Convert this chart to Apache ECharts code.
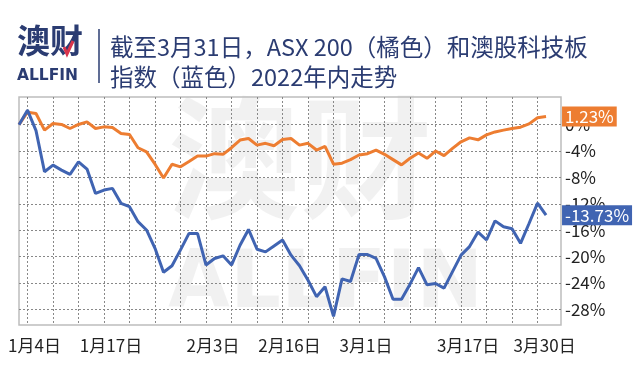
<!DOCTYPE html>
<html><head><meta charset="utf-8">
<script src="https://cdn.jsdelivr.net/npm/echarts@6/dist/echarts.min.js"></script>
<style>html,body{margin:0;padding:0;background:#fff}#c{width:640px;height:376px}</style>
</head><body><div id="c"></div>
<script>
// Trading days (base day 12月31日 + 2022 Q1 ASX trading days)
const dates = ['12月31日',
  '1月4日','1月5日','1月6日','1月7日','1月10日','1月11日','1月12日','1月13日','1月14日',
  '1月17日','1月18日','1月19日','1月20日','1月21日','1月24日','1月25日','1月27日','1月28日','1月31日',
  '2月1日','2月2日','2月3日','2月4日','2月7日','2月8日','2月9日','2月10日','2月11日',
  '2月14日','2月15日','2月16日','2月17日','2月18日','2月21日','2月22日','2月23日','2月24日','2月25日','2月28日',
  '3月1日','3月2日','3月3日','3月4日','3月7日','3月8日','3月9日','3月10日','3月11日',
  '3月14日','3月15日','3月16日','3月17日','3月18日','3月21日','3月22日','3月23日','3月24日','3月25日',
  '3月28日','3月29日','3月30日','3月31日'];
// ASX 200 (orange), % change YTD
const asx200 = [0,
  1.9, 1.69, -0.83, 0.18, 0.03, -0.58, 0.03, 0.43, -0.58, -0.33,
  -0.43, -1.34, -1.49, -3.5, -4.12, -6.0, -8.1, -6.0, -6.4, -5.6,
  -4.77, -4.77, -4.4, -4.5, -3.5, -2.34, -2.1, -3.1, -2.83, -3.2,
  -2.25, -2.1, -3.1, -2.83, -3.85, -3.3, -6.0, -5.85, -5.3, -4.6,
  -4.4, -3.85, -4.5, -5.3, -6.1, -5.1, -4.3, -5.1, -4.0, -4.7,
  -3.6, -2.6, -2.0, -2.3, -1.55, -1.1, -0.83, -0.58, -0.38, 0.12,
  1.04, 1.23];
// ASX tech index (blue), % change YTD
const techIndex = [0,
  2.2, -0.9, -7.15, -6.14, -6.89, -7.55, -5.63, -6.74, -10.43, -9.92,
  -9.67, -11.94, -12.45, -14.72, -15.98, -18.76, -22.4, -21.4, -19.0, -16.5,
  -16.5, -21.3, -20.3, -19.9, -21.3, -18.3, -15.9, -18.9, -19.3, -18.4,
  -17.5, -19.8, -21.4, -23.6, -26.1, -24.6, -29.1, -23.4, -23.8, -19.7,
  -19.7, -20.3, -23.1, -26.5, -26.5, -24.2, -21.7, -24.3, -24.1, -24.8,
  -22.3, -19.8, -18.5, -16.3, -17.5, -14.6, -15.5, -15.8, -18.0, -15.0,
  -11.9, -13.73];
const yTickValues = [0, -4, -8, -12, -16, -20, -24, -28];
const xLabelDates = ['1月4日','1月17日','2月3日','2月16日','3月1日','3月17日','3月30日'];
const titleText = '截至3月31日，ASX 200（橘色）和澳股科技板\n指数（蓝色）2022年内走势';

const ORANGE = '#ed7d31', BLUE = '#4064b2', NAVY = '#2b3c72';
const xLabelIdx = xLabelDates.map(d => dates.indexOf(d));
const xGridIdx = [];
for (let i = 1; i < dates.length; i += 3) xGridIdx.push(i);

const chart = echarts.init(document.getElementById('c'));
const cjk = "'Noto Sans CJK SC', 'Noto Sans', sans-serif";
const gridLineStyle = { color: '#888888', type: [2, 2], width: 1 };

const mkSeries = (name, arr, color, z) => ({
  name, type: 'line', symbol: 'none', smooth: false,
  data: arr.map((v, i) => [i, v]),
  lineStyle: { color, width: 3 }, itemStyle: { color },
  endLabel: {
    show: true, distance: 16, color: '#fff', fontSize: 17, fontFamily: cjk,
    backgroundColor: color, padding: [1, 3, 0, 3], lineHeight: 19,
    formatter: p => p.value[1].toFixed(2) + '%'
  },
  z
});

chart.setOption({
  animation: false,
  title: {
    text: titleText, left: 110, top: 32, padding: 0,
    textStyle: { fontSize: 23.5, lineHeight: 30, color: NAVY, fontWeight: 'normal', fontFamily: cjk }
  },
  graphic: [
    { type: 'text', left: 17, top: 24, z: 10,
      style: { text: '澳财', font: "bold 33px 'Noto Sans CJK SC'", fill: NAVY } },
    { type: 'text', left: 17, top: 68, z: 10,
      style: { text: 'ALLFIN', font: "bold 15.5px 'DejaVu Sans'", fill: NAVY } },
    { type: 'line', z: 10, shape: { x1: 99, y1: 29, x2: 99, y2: 83 }, style: { stroke: NAVY, lineWidth: 1.5 } },
    { type: 'polyline', z: 11, shape: { points: [[64, 47], [67, 54], [73, 41]] }, style: { stroke: '#d9344c', lineWidth: 3, fill: null } },
    { type: 'text', left: 168, top: 92, z: -1, silent: true,
      style: { text: '澳财', font: "bold 132px 'Noto Sans CJK SC'", fill: 'rgba(0,0,0,0.055)' } },
    { type: 'text', left: 168, top: 246, z: -1, silent: true,
      style: { text: 'ALLFIN', font: "bold 80px 'DejaVu Sans'", fill: 'rgba(0,0,0,0.055)' } }
  ],
  grid: { left: 19, right: 79, top: 97, bottom: 51, show: true, borderColor: '#bdbdbd', borderWidth: 1.5 },
  xAxis: {
    type: 'value', min: 0, max: 63.76,
    axisLine: { show: false },
    axisTick: { show: true, length: 0, customValues: xGridIdx },
    splitLine: { show: true, lineStyle: gridLineStyle },
    axisLabel: {
      customValues: xLabelIdx, formatter: v => dates[v],
      fontSize: 17, color: '#222', fontFamily: cjk, margin: 12, padding: [0, 0, 0, 14]
    }
  },
  yAxis: {
    type: 'value', position: 'right', min: -30.4, max: 4.2,
    axisLine: { show: false },
    axisTick: { show: true, length: 0, customValues: yTickValues },
    splitLine: { show: true, lineStyle: gridLineStyle },
    axisLabel: {
      customValues: yTickValues, formatter: v => v + '%',
      fontSize: 17, color: '#222', fontFamily: cjk, margin: 4
    }
  },
  series: [mkSeries('asx', asx200, ORANGE, 3), mkSeries('tech', techIndex, BLUE, 4)]
});
</script></body></html>
